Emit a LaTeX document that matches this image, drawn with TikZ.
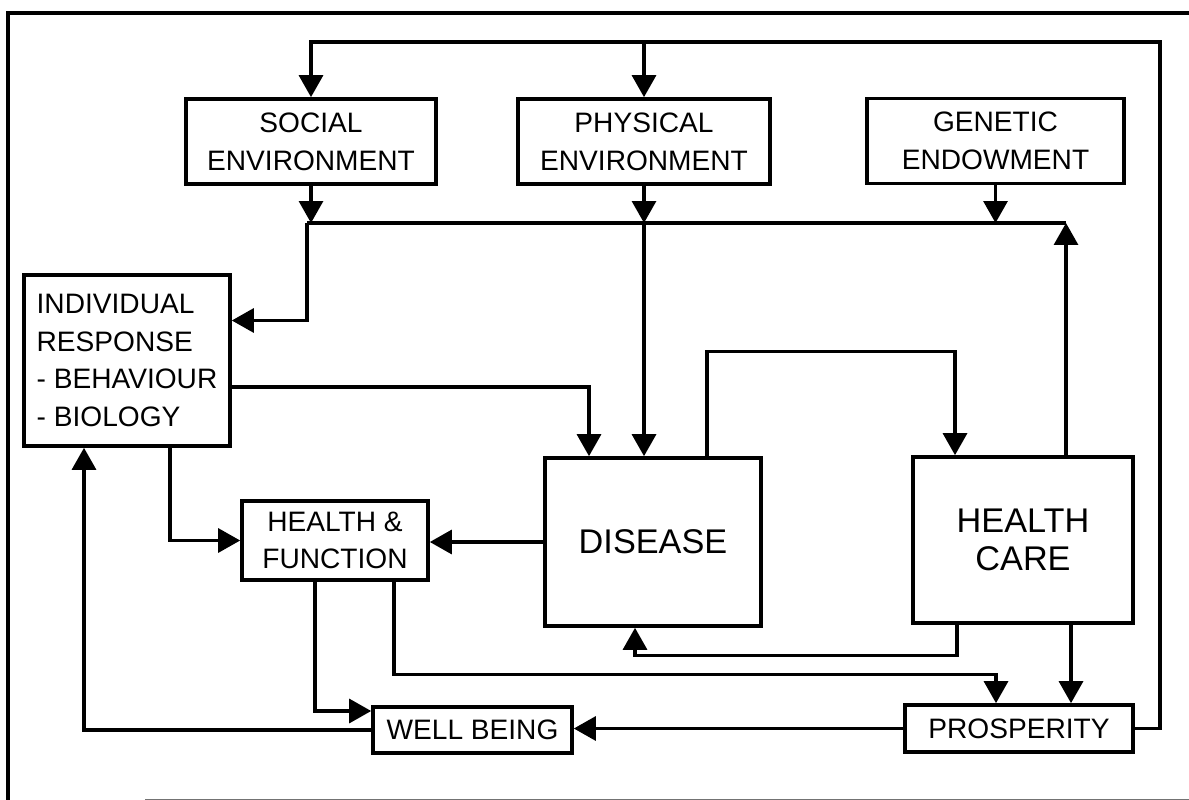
\documentclass[tikz,border=0pt]{standalone}
\usepackage{fontspec}
\setmainfont{Liberation Sans}
\usepackage{tikz}
\usetikzlibrary{arrows.meta, positioning, calc}

\tikzset{
  factorbox/.style={draw, line width=2.1pt, align=center, inner sep=2pt,
    font=\fontsize{16}{21.5}\selectfont},
  bigbox/.style={factorbox, font=\fontsize{19.5}{22}\selectfont},
  flow/.style={line width=1.8pt, -{Triangle[length=0.44cm, width=0.48cm]}},
  plain/.style={line width=1.8pt}
}

\begin{document}
\begin{tikzpicture}[x=0.02cm, y=-0.02cm]
  \useasboundingbox (0,0) rectangle (1189,800);

  % frame
  \draw[line width=1.9pt] (8,800) -- (8,13) -- (1189,13);
  \draw[line width=1pt, black!55] (145,799.5) -- (1189,799.5);

  % determinants
  \node[factorbox, minimum width=5cm, minimum height=1.7cm] (social) at (311,141.5) {SOCIAL\\ENVIRONMENT};
  \node[factorbox, minimum width=5.04cm, minimum height=1.7cm] (physical) at (644,141.5) {PHYSICAL\\ENVIRONMENT};
  \node[factorbox, minimum width=5.14cm, minimum height=1.7cm] (genetic) at (995.5,141) {GENETIC\\ENDOWMENT};
  \node[factorbox, align=left, minimum width=4.12cm, minimum height=3.42cm] (individual) at (127,360.5)
    {INDIVIDUAL\\RESPONSE\\- BEHAVIOUR\\- BIOLOGY};

  % outcomes
  \node[factorbox, minimum width=3.72cm, minimum height=1.58cm] (hf) at (335,540.5) {HEALTH \&\\FUNCTION};
  \node[bigbox, minimum width=4.32cm, minimum height=3.36cm] (disease) at (653,542) {DISEASE};
  \node[bigbox, minimum width=4.4cm, minimum height=3.32cm] (care) at (1023,540) {HEALTH\\CARE};
  \node[factorbox, minimum width=3.98cm, minimum height=0.92cm] (well) at (472.5,730) {WELL BEING};
  \node[factorbox, minimum width=4.56cm, minimum height=0.94cm] (prosp) at (1019,728.5) {PROSPERITY};

  \coordinate (topR) at (1160,42);
  \coordinate (busL) at (307,223);
  \coordinate (busR) at (1066,223);

  % feedback from prosperity to the environments
  \draw[flow] (prosp.east) -| (topR) -| (social.north);
  \draw[flow] (physical.north |- topR) -- (physical.north);

  % bus under the environments
  \draw[plain] (busL) -- (busR);
  \draw[flow] (social.south) -- (social.south |- busL);
  \draw[flow] (physical.south) -- (physical.south |- busL);
  \draw[flow] (genetic.south) -- (genetic.south |- busL);
  \draw[flow] (busL) |- ($(individual.east)+(0,-40)$);
  \draw[flow] (physical.south |- busL) -- (physical.south |- disease.north);
  \draw[flow] (care.north -| busR) -- (busR);

  % middle row
  \draw[flow] ($(individual.east)+(0,26.5)$) -| ($(disease.north)+(-64,0)$);
  \draw[flow] ($(disease.north)+(54,0)$) -- ++(0,-105) -| ($(care.north)+(-68,0)$);
  \draw[flow] (disease.west) -- (disease.west -| hf.east);
  \draw[flow] ($(individual.south)+(43,0)$) |- (hf.west);

  % lower row
  \draw[flow] ($(hf.south)+(-20,0)$) |- ($(well.west)+(0,-19)$);
  \draw[flow] (well.west) -| ($(individual.south)+(-43,0)$);
  \draw[flow] ($(hf.south)+(59,0)$) -- ++(0,93) -| ($(prosp.north)+(-23,0)$);
  \draw[flow] ($(care.south)+(-66,0)$) -- ++(0,31) -| ($(disease.south)+(-18,0)$);
  \draw[flow] ($(care.south)+(48,0)$) -- ($(prosp.north)+(52,0)$);
  \draw[flow] (prosp.west) -- (prosp.west -| well.east);
\end{tikzpicture}
\end{document}
